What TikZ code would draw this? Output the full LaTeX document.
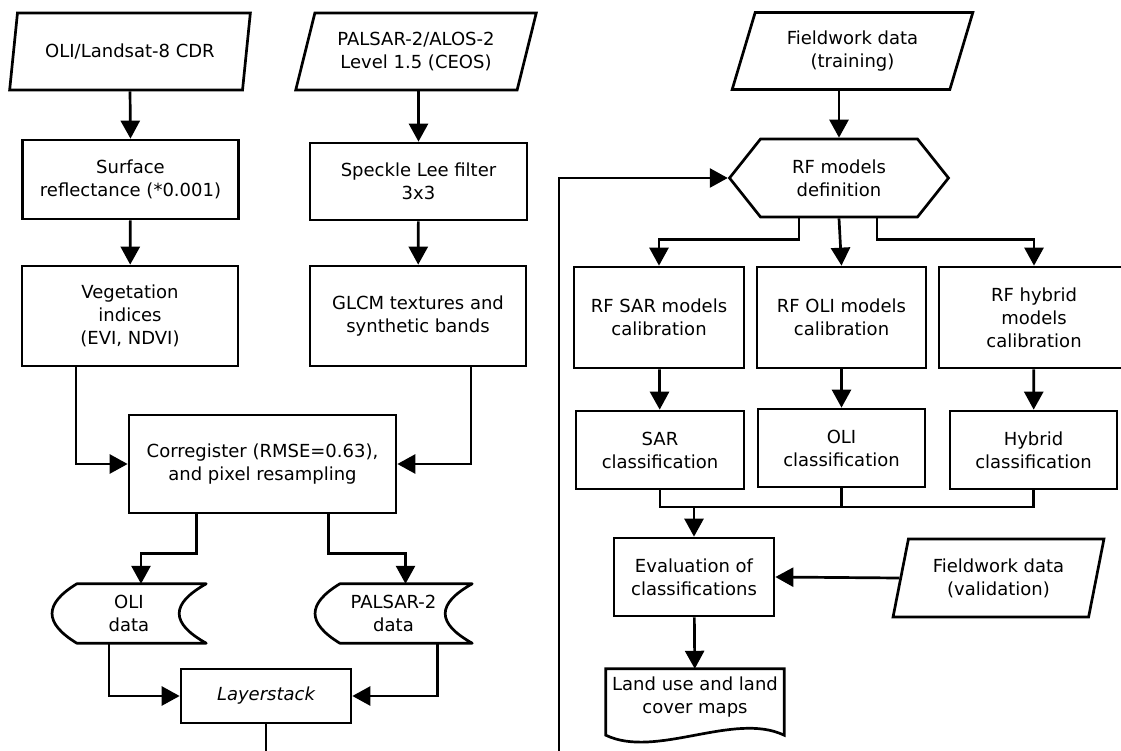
\documentclass[tikz,border=0pt]{standalone}
\usepackage{fontspec}
\setmainfont{DejaVu Sans}
\usetikzlibrary{arrows.meta,positioning,shapes.geometric,shapes.symbols}

\begin{document}
\begin{tikzpicture}[
  x=1pt, y=-1pt,
  box/.style={rectangle, draw, line width=2.7pt, align=center, inner sep=0pt, font=\fontsize{18}{23}\selectfont},
  inout/.style={trapezium, trapezium left angle=69, trapezium right angle=111, trapezium stretches=true, draw, line width=2.7pt, align=center, inner sep=0pt, minimum width=241pt, minimum height=77pt, font=\fontsize{18}{23}\selectfont},
  stored/.style={rectangle, align=center, inner sep=0pt, minimum height=59pt, font=\fontsize{18}{23}\selectfont},
  hexa/.style={signal, signal to=west and east, signal pointer angle=103, draw, line width=2.7pt, align=center, inner sep=0pt, minimum width=219pt, minimum height=78pt, font=\fontsize{18}{23}\selectfont},
  arrow/.style={-{Triangle[length=18pt,width=19pt]}, line width=2.7pt},
  conn/.style={line width=2.7pt}
]
\useasboundingbox (0,0) rectangle (1121,751);
\clip (0,0) rectangle (1121,751);

\node[inout] (oli) at (130,51.5) {OLI/Landsat-8 CDR};
\node[inout] (palsar) at (416,51.5) {PALSAR-2/ALOS-2\\Level 1.5 (CEOS)};
\node[box, minimum width=216pt, minimum height=79pt] (surf) at (130.5,179.5) {Surface\\reflectance (*0.001)};
\node[box, minimum width=216pt, minimum height=100pt] (veg) at (130,316) {Vegetation\\indices\\(EVI, NDVI)};
\node[box, minimum width=217pt, minimum height=77pt] (speckle) at (418.5,181.5) {Speckle Lee filter\\3x3};
\node[box, minimum width=216pt, minimum height=100pt] (glcm) at (418,316) {GLCM textures and\\synthetic bands};
\node[box, minimum width=267pt, minimum height=98pt] (coreg) at (262.5,464) {Corregister (RMSE=0.63),\\and pixel resampling};
\node[stored, minimum width=154pt] (olidata) at (129,613.5) {OLI\\data};
\node[stored, minimum width=157pt] (palsardata) at (393.5,613.5) {PALSAR-2\\data};
\node[box, minimum width=170pt, minimum height=54pt] (stack) at (266,696) {\itshape Layerstack};

\node[inout] (train) at (852.5,51) {Fieldwork data\\(training)};
\node[hexa] (rfdef) at (839,178) {RF models\\definition};
\node[box, minimum width=170pt, minimum height=101pt] (rfsar) at (659,317.5) {RF SAR models\\calibration};
\node[box, minimum width=169pt, minimum height=101pt] (rfoli) at (841.5,317.5) {RF OLI models\\calibration};
\node[box, minimum width=190pt, minimum height=101pt] (rfhyb) at (1034,317.5) {RF hybrid\\models\\calibration};
\node[box, minimum width=168pt, minimum height=78pt] (sarclass) at (660,450) {SAR\\classification};
\node[box, minimum width=167pt, minimum height=78pt] (oliclass) at (841.5,448) {OLI\\classification};
\node[box, minimum width=167pt, minimum height=78pt] (hybclass) at (1033.5,450) {Hybrid\\classification};
\node[box, minimum width=160pt, minimum height=78pt] (eval) at (694,577) {Evaluation of\\classifications};
\node[inout, trapezium left angle=74, trapezium right angle=106, minimum width=211pt, minimum height=78pt] (valid) at (998.5,578) {Fieldwork data\\(validation)};
\node[stored, minimum width=178pt, minimum height=56pt] (maps) at (695,697) {Land use and land\\cover maps};

\foreach \n in {olidata, palsardata}
  \draw[conn, line join=round] ([xshift=25pt]\n.north west) -- (\n.north east)
    .. controls ([xshift=-36pt,yshift=9.5pt]\n.east) and ([xshift=-36pt,yshift=-9.5pt]\n.east) .. (\n.south east)
    -- ([xshift=25pt]\n.south west)
    .. controls ([xshift=-8pt,yshift=-9.5pt]\n.west) and ([xshift=-8pt,yshift=9.5pt]\n.west) .. cycle;
\draw[conn] ([yshift=-10pt]maps.south west) -- (maps.north west) -- (maps.north east) -- ([yshift=-10pt]maps.south east) .. controls +(-50,-24) and +(50,24) .. ([yshift=-10pt]maps.south west) -- cycle;

\draw[arrow] (oli.south) -- (surf.north);
\draw[arrow] (surf) -- (veg);
\draw[arrow] (speckle.north |- palsar.south) -- (speckle.north);
\draw[arrow] (speckle) -- (glcm);
\draw[arrow] ([xshift=-54pt]veg.south) |- (coreg.west);
\draw[arrow] ([xshift=53pt]glcm.south) |- (coreg.east);
\draw[arrow] ([xshift=-66pt]coreg.south) -- ++(0,39) -| ([xshift=12pt]olidata.north);
\draw[arrow] ([xshift=66pt]coreg.south) -- ++(0,39) -| ([xshift=12pt]palsardata.north);
\draw[arrow] ([xshift=-20pt]olidata.south) |- (stack.west);
\draw[arrow] ([xshift=44pt]palsardata.south) |- (stack.east);
\coordinate (back) at (559,790);
\draw[arrow] (stack.south) |- (back) |- (rfdef.west);

\draw[arrow] (rfdef.north |- train.south) -- (rfdef.north);
\draw[arrow] ([xshift=-40pt]rfdef.south) -- ++(0,21) -| (rfsar.north);
\draw[arrow] (rfdef.south) -- (rfoli.north);
\draw[arrow] ([xshift=38pt]rfdef.south) -- ++(0,21) -| (rfhyb.north);
\draw[arrow] (rfsar) -- (sarclass);
\draw[arrow] (rfoli) -- (oliclass);
\draw[arrow] (rfhyb) -- (hybclass);
\coordinate (join) at (694,507);
\draw[conn] (sarclass.south) |- (join) -| (hybclass.south);
\draw[conn] (oliclass.south) -- (oliclass.south |- join);
\draw[arrow] (join) -- (eval);
\draw[arrow] (valid.west) -- (eval.east);
\draw[arrow] (eval) -- (maps);
\end{tikzpicture}
\end{document}
